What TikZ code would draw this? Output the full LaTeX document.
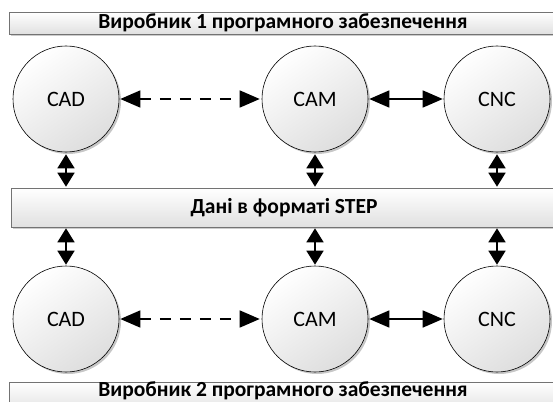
\documentclass[tikz,border=0pt]{standalone}
\usepackage{fontspec}
\setmainfont{Carlito}
\usetikzlibrary{arrows.meta,shadows}
\begin{document}
\begin{tikzpicture}[x=1pt,y=-1pt,
  proc/.style={circle, draw=black, line width=0.6pt, minimum size=106pt, inner sep=0pt,
    font=\fontsize{22}{24}\selectfont,
    top color=white, bottom color=black!13, shading angle=35,
    drop shadow={shadow xshift=2pt, shadow yshift=-2pt, opacity=0.22, fill=black}},
  bar/.style={rectangle, draw=black!55, line width=0.6pt, inner sep=0pt,
    font=\fontsize{21.5}{23}\bfseries\selectfont,
    top color=white, bottom color=black!12,
    drop shadow={shadow xshift=1.5pt, shadow yshift=-2pt, opacity=0.2, fill=black}},
  vtip/.style={{Triangle[length=14pt,width=17pt]}-{Triangle[length=14pt,width=17pt]}, line width=1.6pt},
  htip/.style={{Triangle[length=20pt,width=17pt]}-{Triangle[length=20pt,width=17pt]}, line width=1.5pt},
  dashline/.style={htip, dash pattern=on 11pt off 9pt}
]
\useasboundingbox (0,0) rectangle (553,401);
\clip (0,0) rectangle (553,401);
\fill[white] (0,0) rectangle (553,401);

% bars
\node[bar, minimum width=548pt, minimum height=22pt] (vendor1) at (283,23) {Виробник 1 програмного забезпечення};
\node[bar, minimum width=546pt, minimum height=39pt] (data) at (284,207.5) {Дані в форматі STEP};
\node[bar, minimum width=548pt, anchor=north, inner ysep=2pt, text height=12pt, text depth=14pt] (vendor2) at (283,382) {Виробник 2 програмного забезпечення};

% circles, top row
\node[proc] (cad1) at (66,99) {CAD};
\node[proc] (cam1) at (315,99) {CAM};
\node[proc] (cnc1) at (497,99) {CNC};
% circles, bottom row
\node[proc] (cad2) at (66,319) {CAD};
\node[proc] (cam2) at (315,319) {CAM};
\node[proc] (cnc2) at (497,319) {CNC};

% horizontal connectors
\draw[dashline, shorten <=1pt, shorten >=2pt] (cad1) -- (cam1);
\draw[htip, shorten <=1pt, shorten >=1pt] (cam1) -- (cnc1);
\draw[dashline, shorten <=1pt, shorten >=2pt] (cad2) -- (cam2);
\draw[htip, shorten <=1pt, shorten >=1pt] (cam2) -- (cnc2);

% vertical connectors
\foreach \n in {cad1,cam1,cnc1}{
  \draw[vtip, shorten <=2pt, shorten >=1pt] (\n.south) -- (\n.south |- data.north);
}
\foreach \n in {cad2,cam2,cnc2}{
  \draw[vtip, shorten <=1pt, shorten >=1pt] (\n.north |- data.south) -- (\n.north);
}
\end{tikzpicture}
\end{document}
